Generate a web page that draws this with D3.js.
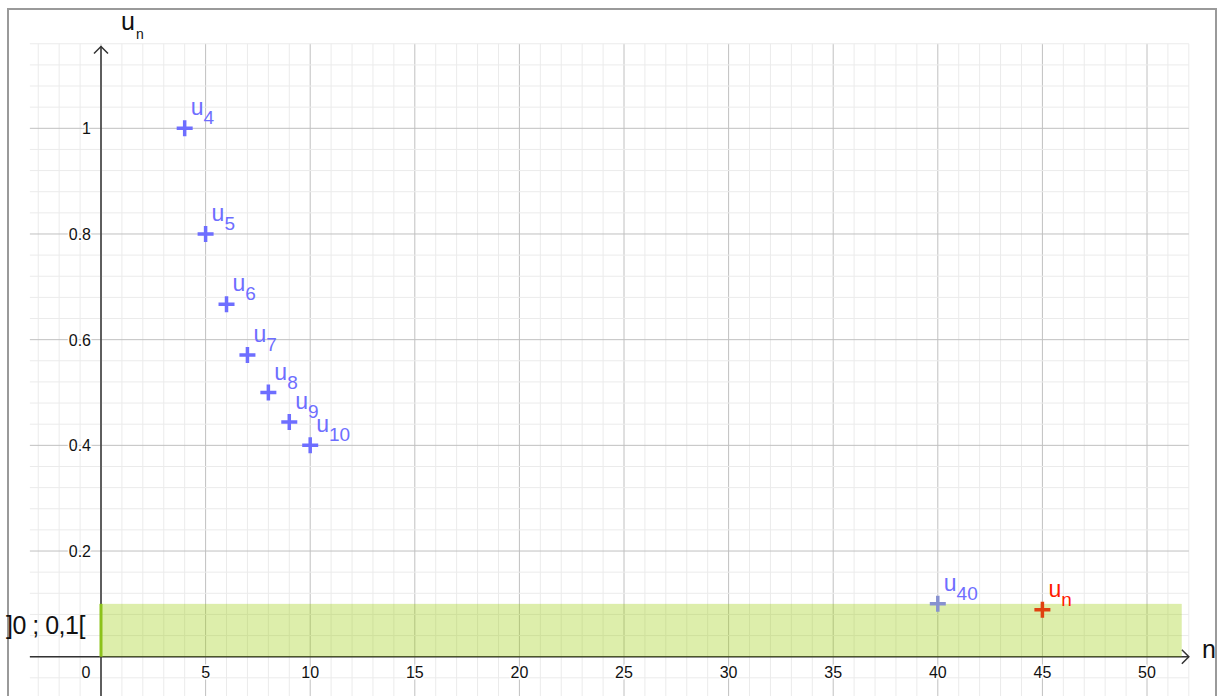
<!DOCTYPE html>
<html>
<head>
<meta charset="utf-8">
<script src="https://cdn.jsdelivr.net/npm/d3@7"></script>
<style>
  body { margin: 0; background: #fff; }
  svg { display: block; font-family: "Liberation Sans", Arial, sans-serif; }
</style>
</head>
<body>
<div id="chart"></div>
<script>
// terms of the sequence u_n = 4/n shown on the plot
const nValues = [4, 5, 6, 7, 8, 9, 10, 40]
const uValues = [1, 0.8, 0.667, 0.571, 0.5, 0.444, 0.4, 0.1]
const subLabels = ["4", "5", "6", "7", "8", "9", "10", "40"]
// the generic term u_n (red)
const nRed = [45]
const uRed = [0.089]
const xTicks = [0, 5, 10, 15, 20, 25, 30, 35, 40, 45, 50]
const yTicks = [0.2, 0.4, 0.6, 0.8, 1]
const band = [0, 0.1]      // interval ]0 ; 0,1[
const bandLabel = "]0 ; 0,1["

let width = 1218
let height = 696

let svg = d3.select('#chart').append('svg')
  .attr('width', width)
  .attr('height', height)

let x = d3.scaleLinear().domain([0, 50]).range([101, 1147])
let y = d3.scaleLinear().domain([0, 1]).range([656.7, 128.3])

// visible window of the graphics view
let xMin = -3.4, xMax = 52, yMin = -0.08, yMax = 1.16

// outer frame
svg.append('rect')
  .attr('x', 8).attr('y', 9)
  .attr('width', 1208).attr('height', 720)
  .attr('fill', 'none').attr('stroke', '#9a9a9a').attr('stroke-width', 2)

// grid
let grid = svg.append('g')
let minorX = d3.range(-3, 53, 1)
let minorY = d3.range(-2, 30, 1).map(d => d * 0.04)

grid.selectAll('.vx').data(minorX).join('line')
  .attr('x1', d => x(d)).attr('x2', d => x(d))
  .attr('y1', y(yMax)).attr('y2', y(yMin))
  .attr('stroke', d => d % 5 === 0 ? '#c0c0c0' : '#ebebeb')
  .attr('stroke-width', 1)

grid.selectAll('.hy').data(minorY).join('line')
  .attr('x1', x(xMin)).attr('x2', x(xMax))
  .attr('y1', d => y(d)).attr('y2', d => y(d))
  .attr('stroke', (d, i) => (i - 2) % 5 === 0 ? '#c0c0c0' : '#ebebeb')
  .attr('stroke-width', 1)

// axes
let axisColor = '#333'
svg.append('line')
  .attr('x1', x(xMin)).attr('x2', x(xMax))
  .attr('y1', y(0)).attr('y2', y(0))
  .attr('stroke', axisColor).attr('stroke-width', 1.5)
svg.append('path')
  .attr('d', `M${x(xMax) - 7},${y(0) - 7} L${x(xMax)},${y(0)} L${x(xMax) - 7},${y(0) + 7}`)
  .attr('fill', 'none').attr('stroke', axisColor).attr('stroke-width', 1.5)

svg.append('line')
  .attr('x1', x(0)).attr('x2', x(0))
  .attr('y1', height).attr('y2', 46.5)
  .attr('stroke', axisColor).attr('stroke-width', 1.5)
svg.append('path')
  .attr('d', `M${x(0) - 7},${46.5 + 7} L${x(0)},46.5 L${x(0) + 7},${46.5 + 7}`)
  .attr('fill', 'none').attr('stroke', axisColor).attr('stroke-width', 1.5)

// tick labels
svg.selectAll('.xt').data(xTicks).join('text')
  .attr('x', d => d === 0 ? x(0) - 15 : x(d))
  .attr('y', y(0) + 21)
  .attr('text-anchor', 'middle')
  .attr('font-size', 16)
  .attr('fill', '#111')
  .attr('stroke', '#fff').attr('stroke-width', 3).attr('paint-order', 'stroke')
  .text(d => d)

svg.selectAll('.yt').data(yTicks).join('text')
  .attr('x', x(0) - 10)
  .attr('y', d => y(d) + 6)
  .attr('text-anchor', 'end')
  .attr('font-size', 16)
  .attr('fill', '#111')
  .attr('stroke', '#fff').attr('stroke-width', 3).attr('paint-order', 'stroke')
  .text(d => d)

// axis names
let yName = svg.append('text').attr('x', 121).attr('y', 30).attr('font-size', 25).attr('fill', '#111')
yName.append('tspan').text('u')
yName.append('tspan').attr('font-size', 14).attr('dx', 1).attr('dy', 9).text('n')

svg.append('text')
  .attr('x', 1202).attr('y', 658)
  .attr('font-size', 25).attr('fill', '#111')
  .text('n')

// the band ]0 ; 0,1[
svg.append('rect')
  .attr('x', x(band[0])).attr('y', y(band[1]))
  .attr('width', x(51.66) - x(band[0]))
  .attr('height', y(band[0]) - y(band[1]))
  .attr('fill', 'rgb(153,204,0)').attr('fill-opacity', 0.33)
svg.append('line')
  .attr('x1', x(0)).attr('x2', x(0))
  .attr('y1', y(band[0])).attr('y2', y(band[1]))
  .attr('stroke', '#8cc21a').attr('stroke-width', 3)

svg.append('text')
  .attr('x', 6).attr('y', 634)
  .attr('font-size', 25).attr('fill', '#111')
  .attr('letter-spacing', -0.5)
  .text(bandLabel)

// crosses
function cross(g, cx, cy, color) {
  let s = 8
  g.append('path')
    .attr('d', `M${cx - s},${cy} H${cx + s} M${cx},${cy - s} V${cy + s}`)
    .attr('stroke', color).attr('stroke-width', 3.5)
}

let pts = svg.append('g')
nValues.forEach((n, i) => {
  let col = n === 40 ? '#8791d0' : '#6e6eff'
  cross(pts, x(n), y(uValues[i]), col)
  let t = pts.append('text')
    .attr('x', x(n) + 6).attr('y', y(uValues[i]) - 13)
    .attr('font-size', 23).attr('fill', '#6e6eff')
  t.append('tspan').text('u')
  t.append('tspan').attr('font-size', 19).attr('dy', 9).text(subLabels[i])
})

nRed.forEach((n, i) => {
  cross(pts, x(n), y(uRed[i]), '#e0410f')
  let t = pts.append('text')
    .attr('x', x(n) + 6).attr('y', y(uRed[i]) - 13)
    .attr('font-size', 23).attr('fill', '#ff1a00')
  t.append('tspan').text('u')
  t.append('tspan').attr('font-size', 19).attr('dy', 9).text('n')
})
</script>
</body>
</html>
